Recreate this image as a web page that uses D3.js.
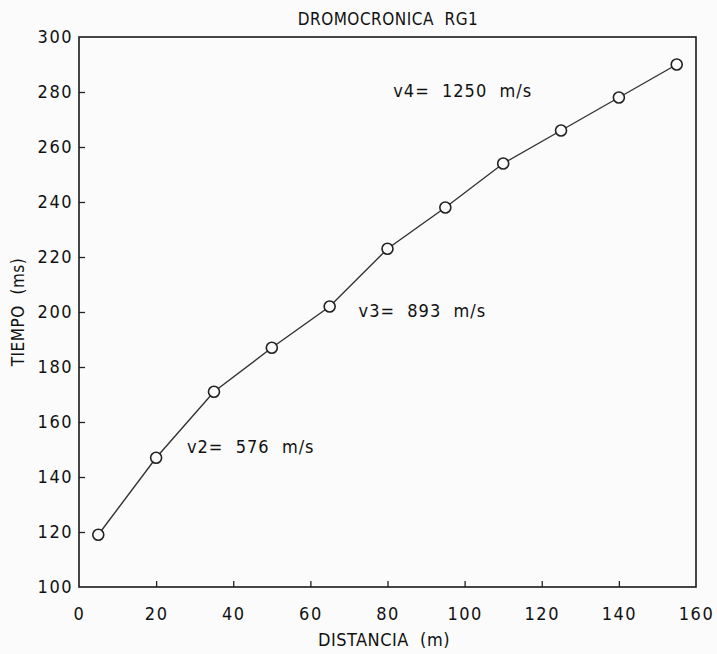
<!DOCTYPE html>
<html>
<head>
<meta charset="utf-8">
<script src="https://cdn.jsdelivr.net/npm/d3@7"></script>
<style>
  html, body { margin: 0; padding: 0; background: #fbfbfb; }
  svg { display: block; }
  text { font-family: "DejaVu Sans Condensed", "DejaVu Sans", sans-serif; font-stretch: condensed; fill: #111; }
</style>
</head>
<body>
<svg id="chart" width="717" height="654"></svg>
<script>
// Travel-time curve (dromocrónica) for seismic line RG1
const distances = [5, 20, 35, 50, 65, 80, 95, 110, 125, 140, 155];
const times     = [119, 147, 171, 187, 202, 223, 238, 254, 266, 278, 290];

const xTicks = [0, 20, 40, 60, 80, 100, 120, 140, 160];
const yTicks = [100, 120, 140, 160, 180, 200, 220, 240, 260, 280, 300];

// Velocity labels for each refractor segment, placed in data units
const velLabels = ["v2=  576  m/s", "v3=  893  m/s", "v4=  1250  m/s"];
const velX = [28, 72.5, 81.5];
const velY = [151, 200.3, 280.5];

const title = "DROMOCRONICA  RG1";
const xTitle = "DISTANCIA  (m)";
const yTitle = "TIEMPO  (ms)";

const W = 717, H = 654;
const margin = { top: 37, right: 21, bottom: 67, left: 79 };
const iw = W - margin.left - margin.right;
const ih = H - margin.top - margin.bottom;

const FONT = "'DejaVu Sans Condensed', 'DejaVu Sans', sans-serif";

const svg = d3.select("#chart");
const g = svg.append("g").attr("transform", `translate(${margin.left},${margin.top})`);

const x = d3.scaleLinear().domain([0, 160]).range([0, iw]);
const y = d3.scaleLinear().domain([100, 300]).range([ih, 0]);

// Axes with inward ticks
const xAxis = d3.axisBottom(x).tickValues(xTicks).tickSize(-6).tickPadding(20).tickFormat(d3.format("d"));
const yAxis = d3.axisLeft(y).tickValues(yTicks).tickSize(-6).tickPadding(6).tickFormat(d3.format("d"));

const gx = g.append("g").attr("transform", `translate(0,${ih})`).call(xAxis);
const gy = g.append("g").call(yAxis);
[gx, gy].forEach(a => {
  a.select(".domain").remove();
  a.selectAll(".tick line").attr("stroke", "#222").attr("stroke-width", 1.3);
  a.selectAll(".tick text").attr("font-size", 18).attr("font-family", FONT)
    .style("letter-spacing", "1.5px").style("fill", "#111");
});
// hide tick marks that coincide with the frame
gx.selectAll(".tick").filter(d => d === 0 || d === 160).select("line").remove();
gy.selectAll(".tick").filter(d => d === 100 || d === 300).select("line").remove();

// Frame
g.append("rect").attr("x", 0).attr("y", 0).attr("width", iw).attr("height", ih)
  .attr("fill", "none").attr("stroke", "#1a1a1a").attr("stroke-width", 1.6);

// Data line
const pts = distances.map((d, i) => [d, times[i]]);
g.append("path").datum(pts)
  .attr("fill", "none").attr("stroke", "#333").attr("stroke-width", 1.4)
  .attr("d", d3.line().x(d => x(d[0])).y(d => y(d[1])));

// Markers
g.selectAll("circle.pt").data(pts).enter().append("circle")
  .attr("class", "pt")
  .attr("cx", d => x(d[0])).attr("cy", d => y(d[1])).attr("r", 5.5)
  .attr("fill", "#fbfbfb").attr("stroke", "#222").attr("stroke-width", 1.6);

// Velocity annotations
g.selectAll("text.vel").data(velLabels).enter().append("text")
  .attr("class", "vel")
  .attr("x", (d, i) => x(velX[i])).attr("y", (d, i) => y(velY[i]))
  .attr("dy", "0.35em").attr("font-size", 18)
  .style("letter-spacing", "1px")
  .style("white-space", "pre").attr("xml:space", "preserve")
  .text(d => d);

// Titles
svg.append("text").attr("x", 388).attr("y", 25).attr("text-anchor", "middle")
  .attr("font-size", 17).style("letter-spacing", "0.5px")
  .style("white-space", "pre").attr("xml:space", "preserve").text(title);
svg.append("text").attr("x", 384).attr("y", 646).attr("text-anchor", "middle")
  .attr("font-size", 18).style("letter-spacing", "0.5px")
  .style("white-space", "pre").attr("xml:space", "preserve").text(xTitle);
svg.append("text").attr("transform", `translate(24,${margin.top + ih / 2}) rotate(-90)`)
  .attr("text-anchor", "middle").attr("font-size", 17).style("letter-spacing", "0.5px")
  .style("white-space", "pre").attr("xml:space", "preserve").text(yTitle);
</script>
</body>
</html>
